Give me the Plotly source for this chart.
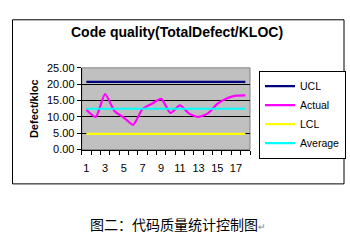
import plotly.graph_objects as go

W, H = 350, 246

periods = list(range(1, 19))
actual = [12.2, 10.0, 17.0, 11.8, 9.8, 7.6, 12.4, 14.0, 15.5, 11.2, 13.5, 11.0, 10.0, 11.1, 14.0, 15.6, 16.5, 16.6]
ucl_value = 20.7
lcl_value = 4.8
avg_value = 12.5

series_names = ["UCL", "Actual", "LCL", "Average"]
series_colors = ["#000080", "#FF00FF", "#FFFF00", "#00FFFF"]

y_ticks = [0, 5, 10, 15, 20, 25]
x_ticks = [1, 3, 5, 7, 9, 11, 13, 15, 17]

title_text = "Code quality(TotalDefect/KLOC)"
y_title = "Defect/kloc"
caption = "图二：代码质量统计控制图"

font_family = "Liberation Sans, Arial, sans-serif"

series_values = {
    "UCL": [ucl_value] * len(periods),
    "Actual": actual,
    "LCL": [lcl_value] * len(periods),
    "Average": [avg_value] * len(periods),
}

fig = go.Figure()
for name, color in zip(series_names, series_colors):
    fig.add_trace(go.Scatter(
        x=periods, y=series_values[name], name=name, mode="lines",
        line=dict(color=color, width=2.2,
                  shape="spline" if name == "Actual" else "linear",
                  smoothing=0.6),
    ))

def px_x(v):
    return v / W

def px_y(v):
    return (H - v) / H

fig.update_layout(
    width=W, height=H,
    margin=dict(l=0, r=0, t=0, b=0),
    paper_bgcolor="white",
    plot_bgcolor="#C0C0C0",
    font=dict(family=font_family, size=11, color="black"),
    showlegend=True,
    legend=dict(
        x=px_x(259), y=px_y(68), xanchor="left", yanchor="top",
        bgcolor="white", bordercolor="black", borderwidth=1,
        font=dict(family=font_family, size=10.5, color="black"),
        tracegroupgap=0, itemwidth=30,
    ),
    xaxis=dict(
        domain=[px_x(81.7), px_x(250)],
        range=[0.5, 18.5],
        tickvals=x_ticks, ticktext=[str(v) for v in x_ticks],
        ticks="", showgrid=False, zeroline=False,
        showline=True, linecolor="black", linewidth=1,
        tickfont=dict(size=11), ticklabelstandoff=8,
        minor=dict(ticks="outside", tick0=0.5, dtick=1, ticklen=4, tickcolor="black", showgrid=False),
    ),
    yaxis=dict(
        domain=[px_y(151), px_y(65)],
        range=[0, 25],
        tickvals=y_ticks, ticktext=[f"{v:.2f}" for v in y_ticks],
        ticks="outside", ticklen=4, tickcolor="black",
        showgrid=True, gridcolor="black", gridwidth=1,
        zeroline=False, showline=True, linecolor="black", linewidth=1,
        tickfont=dict(size=11),
        title=dict(text=f"<b>{y_title}</b>", font=dict(size=11), standoff=6),
    ),
    shapes=[
        dict(type="rect", xref="paper", yref="paper",
             x0=px_x(12.5), x1=px_x(344), y0=px_y(187), y1=px_y(14.5),
             line=dict(color="black", width=1), layer="below"),
        dict(type="rect", xref="x domain", yref="y domain",
             x0=0, x1=1, y0=0, y1=1, line=dict(color="#808080", width=1), layer="below"),
    ],
    annotations=[
        dict(text=f"<b>{title_text}</b>", xref="paper", yref="paper",
             x=px_x(177), y=px_y(27), xanchor="center", yanchor="middle",
             showarrow=False, font=dict(family=font_family, size=14, color="black")),
        dict(text=caption + "<span style='font-size:9px;color:#808080'>↵</span>",
             xref="paper", yref="paper",
             x=px_x(178), y=px_y(229), xanchor="center", yanchor="middle",
             showarrow=False, font=dict(family="Noto Sans CJK SC", size=14, color="black")),
    ],
)

fig.write_html("out.html")
